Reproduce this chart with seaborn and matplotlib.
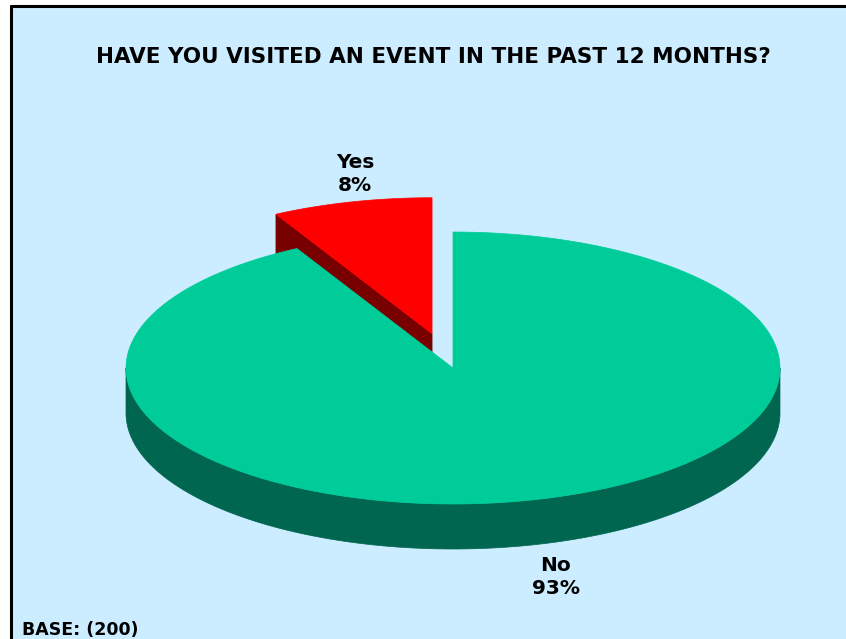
import numpy as np
import matplotlib
matplotlib.use("Agg")
import matplotlib.pyplot as plt
from matplotlib.patches import Polygon, Rectangle
from matplotlib.lines import Line2D
import seaborn as sns

# ---- data ----
categories = ["Yes", "No"]
values = [8, 93]
pct_labels = ["8%", "93%"]
title = "HAVE YOU VISITED AN EVENT IN THE PAST 12 MONTHS?"
base_note = "BASE: (200)"

sns.set_style("white")
plt.rcParams['font.family'] = ['DejaVu Sans']

top_colors = sns.color_palette(["#FF0000", "#00CC99"])
side_colors = sns.color_palette(["#780000", "#006650"])

W, H = 846, 639
fig = plt.figure(figsize=(W / 100, H / 100), dpi=100)
fig.patch.set_facecolor("white")
ax = fig.add_axes([0, 0, 1, 1])
ax.set_xlim(0, W)
ax.set_ylim(H, 0)
ax.axis("off")

# background panel with top/left border
ax.add_patch(Rectangle((11, 6), W - 11, H - 6, facecolor="#CCECFF", edgecolor="none", zorder=0))
ax.add_line(Line2D([11, W], [6, 6], color="black", lw=2.2, zorder=1))
ax.add_line(Line2D([11, 11], [6, H], color="black", lw=2.2, zorder=1))

# ---- 3D pie geometry ----
cx, cy = 453, 368
rx, ry = 327, 136
depth = 45
explode = [0.26, 0.0]

fracs = np.array(values, dtype=float) / np.sum(values)
start = 90.0
angles = []
for f in fracs:
    angles.append((start, start + 360 * f))
    start += 360 * f


def pt(t, ox, oy, dz=0.0):
    r = np.deg2rad(t)
    return ox + rx * np.cos(r), oy - ry * np.sin(r) + dz


def arc(t0, t1, ox, oy, dz=0.0, n=200):
    ts = np.linspace(t0, t1, n)
    r = np.deg2rad(ts)
    return np.column_stack([ox + rx * np.cos(r), oy - ry * np.sin(r) + dz])


z = 2
for i, (t0, t1) in enumerate(angles):
    mid = np.deg2rad((t0 + t1) / 2)
    ox = cx + explode[i] * rx * np.cos(mid)
    oy = cy - explode[i] * ry * np.sin(mid)
    # radial faces
    for t, normal in ((t0, t0 - 90), (t1, t1 + 90)):
        if np.sin(np.deg2rad(normal)) < -1e-6:
            px, py = pt(t, ox, oy)
            poly = [(ox, oy), (px, py), (px, py + depth), (ox, oy + depth)]
            ax.add_patch(Polygon(poly, closed=True, facecolor=side_colors[i],
                                 edgecolor=side_colors[i], lw=0.5, zorder=z))
    # outer wall on front half (180..360 deg, modulo)
    for k in range(-1, 3):
        a0 = max(t0, 180 + 360 * k)
        a1 = min(t1, 360 + 360 * k)
        if a1 > a0:
            topa = arc(a0, a1, ox, oy)
            bota = arc(a0, a1, ox, oy, depth)[::-1]
            ax.add_patch(Polygon(np.vstack([topa, bota]), closed=True,
                                 facecolor=side_colors[i], edgecolor=side_colors[i],
                                 lw=0.5, zorder=z))
    # top face
    topf = np.vstack([[ox, oy], arc(t0, t1, ox, oy)])
    ax.add_patch(Polygon(topf, closed=True, facecolor=top_colors[i],
                         edgecolor=top_colors[i], lw=0.5, zorder=z + 1))
    z += 2

# ---- labels ----
label_pos = [(355, 174), (556, 577)]
for (lx, ly), c, p in zip(label_pos, categories, pct_labels):
    ax.text(lx, ly, f"{c}\n{p}", ha="center", va="center", fontsize=14.5,
            fontweight="bold", linespacing=1.3, color="black", zorder=10)

ax.text(433, 57, title, ha="center", va="center", fontsize=15.5,
        fontweight="bold", color="black", zorder=10)
ax.text(22, 630, base_note, ha="left", va="center", fontsize=12.5,
        fontweight="bold", color="black", zorder=10)

fig.savefig("out.png", dpi=100, facecolor=fig.get_facecolor())
